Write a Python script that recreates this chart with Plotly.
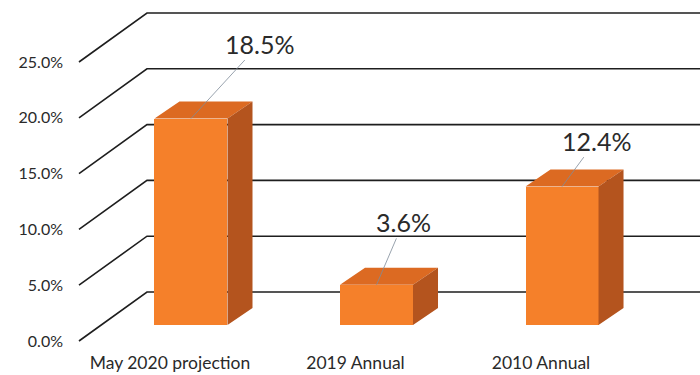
import plotly.graph_objects as go

# Chart data
categories = ["May 2020 projection", "2019 Annual", "2010 Annual"]
values = [18.5, 3.6, 12.4]
tick_values = [0, 5, 10, 15, 20, 25]
tick_labels = [f"{t:.1f}%" for t in tick_values]

# Colours
FRONT = "#F5802A"
TOP = "#DC6A22"
SIDE = "#B4541E"
GRID = "#1E1E1E"
TEXT = "#2A2A2A"

# Oblique "3-D" projection: depth shifts points right (x units) and up (% units)
PX_PER_UNIT = 185.5          # pixels per category step
PX_PER_PCT = 11.16           # pixels per percentage point
WALL_DX, WALL_DY = 68 / PX_PER_UNIT, 49 / PX_PER_PCT      # front plane -> back wall
BAR_DX, BAR_DY = 21 / PX_PER_UNIT, 16 / PX_PER_PCT        # front plane -> bar front face
DEPTH_DX, DEPTH_DY = 25 / PX_PER_UNIT, 17 / PX_PER_PCT    # bar front face -> bar back face
BAR_W = 73 / PX_PER_UNIT

X_MIN, X_MAX = -0.539, 2.857
Y_MIN, Y_MAX = -0.806, 30.556
GRID_X0 = -0.4906

fig = go.Figure()

# Front faces of the bars
xs = [i + BAR_DX for i in range(len(categories))]
fig.add_trace(go.Bar(
    x=xs, y=values, base=[BAR_DY] * len(values), width=BAR_W,
    marker=dict(color=FRONT, line=dict(width=0)),
    hoverinfo="skip", showlegend=False,
))

# Top and side faces built from the same values
top_x, top_y, side_x, side_y = [], [], [], []
for xc, v in zip(xs, values):
    xl, xr = xc - BAR_W / 2, xc + BAR_W / 2
    y0, y1 = BAR_DY, BAR_DY + v
    top_x += [xl, xr, xr + DEPTH_DX, xl + DEPTH_DX, xl, None]
    top_y += [y1, y1, y1 + DEPTH_DY, y1 + DEPTH_DY, y1, None]
    side_x += [xr, xr, xr + DEPTH_DX, xr + DEPTH_DX, xr, None]
    side_y += [y0, y1, y1 + DEPTH_DY, y0 + DEPTH_DY, y0, None]

for fx, fy, col in [(top_x, top_y, TOP), (side_x, side_y, SIDE)]:
    fig.add_trace(go.Scatter(
        x=fx, y=fy, mode="lines", fill="toself", fillcolor=col,
        line=dict(width=0, color=col), hoverinfo="skip", showlegend=False,
    ))

# Perspective gridlines: diagonal on the floor/side, then flat along the back wall
shapes = []
for t in tick_values:
    path = (f"M {GRID_X0},{t} L {GRID_X0 + WALL_DX},{t + WALL_DY} "
            f"L {X_MAX},{t + WALL_DY}")
    shapes.append(dict(type="path", path=path, xref="x", yref="y",
                       line=dict(color=GRID, width=1.6), layer="below"))

# Value labels with leader lines
label_offsets = [(69, -75), (27, -63), (34, -46)]
annotations = []
for xc, v, (ax, ay) in zip(xs, values, label_offsets):
    annotations.append(dict(
        x=xc, y=BAR_DY + v, xref="x", yref="y",
        text=f"{v:.1f}%", showarrow=True, arrowhead=0, arrowwidth=0.8,
        arrowcolor="#7f8c99", ax=ax, ay=ay, standoff=0,
        font=dict(family="Lato", size=25, color=TEXT),
    ))

fig.update_layout(
    width=700, height=375,
    margin=dict(l=70, r=0, t=0, b=25),
    paper_bgcolor="white", plot_bgcolor="white",
    shapes=shapes, annotations=annotations,
    bargap=0, showlegend=False,
    xaxis=dict(
        range=[X_MIN, X_MAX], tickvals=list(range(len(categories))),
        ticktext=categories, showgrid=False, zeroline=False, showline=False,
        ticks="", ticklabelstandoff=0,
        tickfont=dict(family="Lato", size=17.5, color=TEXT),
    ),
    yaxis=dict(
        range=[Y_MIN, Y_MAX], tickvals=tick_values, ticktext=tick_labels,
        showgrid=False, zeroline=False, showline=False, ticks="",
        ticklabelstandoff=6,
        tickfont=dict(family="Lato", size=16, color=TEXT),
    ),
)

fig.write_html("out.html")
